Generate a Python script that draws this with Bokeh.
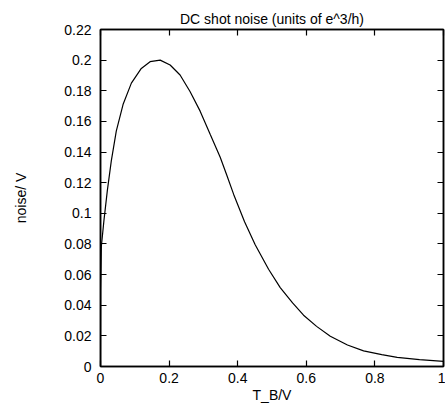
from bokeh.plotting import figure
from bokeh.models import LinearAxis, FixedTicker, Range1d, CustomJSTickFormatter
from bokeh.embed import file_html
from bokeh.resources import INLINE

# Data
t_b = [0.0, 0.0005, 0.0025, 0.0102, 0.020, 0.0316, 0.046, 0.0657, 0.090, 0.119,
       0.1445, 0.174, 0.203, 0.232, 0.261, 0.2905, 0.3197, 0.349, 0.368, 0.388,
       0.42, 0.451, 0.49, 0.524, 0.56, 0.592, 0.63, 0.67, 0.72, 0.767, 0.82,
       0.865, 0.93, 1.0]
noise = [0.0, 0.05, 0.0785, 0.0957, 0.115, 0.1344, 0.1537, 0.171, 0.185, 0.1946,
         0.199, 0.200, 0.1968, 0.1903, 0.1795, 0.1667, 0.1516, 0.1366, 0.1250, 0.1125,
         0.0945, 0.0795, 0.0635, 0.0515, 0.0415, 0.0335, 0.0262, 0.0198, 0.0140, 0.0102,
         0.0077, 0.0060, 0.0045, 0.0033]

x_ticks = [0, 0.2, 0.4, 0.6, 0.8, 1.0]
x_tick_labels = ["0", "0.2", "0.4", "0.6", "0.8", "1"]
y_ticks = [0, 0.02, 0.04, 0.06, 0.08, 0.1, 0.12, 0.14, 0.16, 0.18, 0.2, 0.22]
y_tick_labels = ["0", "0.02", "0.04", "0.06", "0.08", "0.1", "0.12", "0.14",
                 "0.16", "0.18", "0.2", "0.22"]

FONT = "Liberation Sans"
FS = "14px"

p = figure(width=445, height=405, output_backend="svg", toolbar_location=None,
           x_range=Range1d(0, 1), y_range=Range1d(0, 0.22),
           min_border_left=100, min_border_right=2, min_border_top=29, min_border_bottom=35)
p.title.text = "DC shot noise (units of e^3/h)"
p.title.text_font = FONT
p.title.text_font_size = FS
p.title.text_font_style = "normal"
p.title.text_color = "black"
p.title.align = "center"
p.title.standoff = 5

p.line(t_b, noise, line_color="black", line_width=1.2)

p.xgrid.visible = False
p.ygrid.visible = False
p.outline_line_color = "black"
p.outline_line_width = 1.5
p.background_fill_color = "white"
p.border_fill_color = "white"


def style(ax, ticks):
    ax.ticker = FixedTicker(ticks=ticks)
    ax.major_tick_in = 6
    ax.major_tick_out = 0
    ax.minor_tick_in = 0
    ax.minor_tick_out = 0
    ax.axis_line_color = "black"
    ax.axis_line_width = 1.5
    ax.major_tick_line_color = "black"
    ax.major_tick_line_width = 1.2
    ax.major_label_text_font = FONT
    ax.major_label_text_font_size = FS
    ax.major_label_text_color = "black"
    ax.axis_label_text_font = FONT
    ax.axis_label_text_font_size = FS
    ax.axis_label_text_font_style = "normal"
    ax.axis_label_text_color = "black"


xa = p.xaxis[0]
style(xa, x_ticks)
xa.major_label_overrides = {t: l for t, l in zip(x_ticks, x_tick_labels)}
xa.axis_label = "T_B/V"
xa.major_label_standoff = 6
xa.axis_label_standoff = 1

ya = p.yaxis[0]
style(ya, y_ticks)
ya.major_label_overrides = {t: l for t, l in zip(y_ticks, y_tick_labels)}
ya.axis_label = "noise/ V"
ya.major_label_standoff = 9
ya.axis_label_standoff = 32

empty = CustomJSTickFormatter(code="return ''")
top = LinearAxis(formatter=empty)
style(top, x_ticks)
top.major_label_standoff = 0
top.major_label_text_font_size = "0px"
p.add_layout(top, "above")

right = LinearAxis(formatter=empty)
style(right, y_ticks)
right.major_label_standoff = 0
right.major_label_text_font_size = "0px"
p.add_layout(right, "right")

open("out.html", "w").write(file_html(p, INLINE))
